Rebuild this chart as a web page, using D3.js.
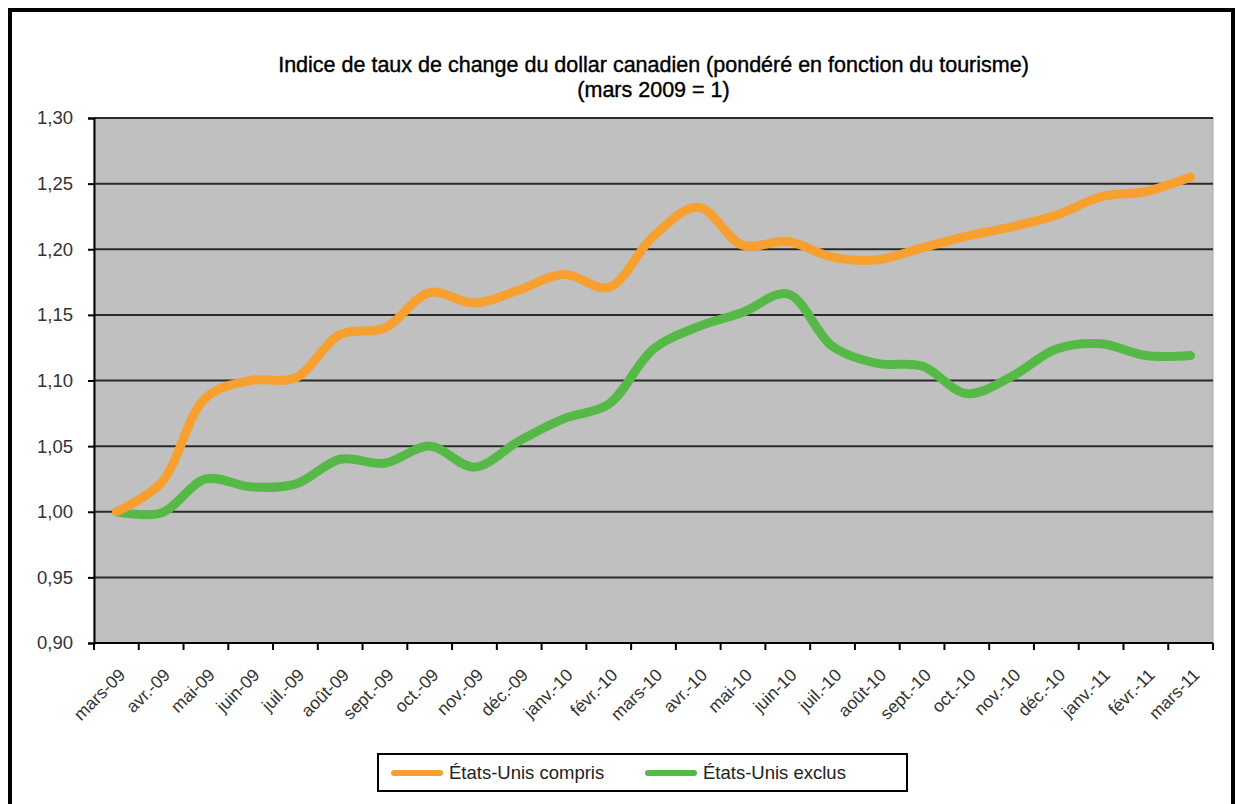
<!DOCTYPE html>
<html>
<head>
<meta charset="utf-8">
<script src="https://cdn.jsdelivr.net/npm/d3@7"></script>
<style>
  body { margin: 0; background: #fff; }
  svg { display: block; }
  text { font-family: "Liberation Sans", Arial, sans-serif; }
</style>
</head>
<body>
<div id="chart"></div>
<script>
// months on the x axis
var months = ["mars-09", "avr.-09", "mai-09", "juin-09", "juil.-09", "août-09", "sept.-09", "oct.-09",
  "nov.-09", "déc.-09", "janv.-10", "févr.-10", "mars-10", "avr.-10", "mai-10", "juin-10", "juil.-10",
  "août-10", "sept.-10", "oct.-10", "nov.-10", "déc.-10", "janv.-11", "févr.-11", "mars-11"];

// index values
var usIncluded = [1.000, 1.022, 1.087, 1.100, 1.102, 1.135, 1.140, 1.167, 1.159, 1.169, 1.181, 1.171, 1.210,
  1.232, 1.203, 1.206, 1.194, 1.192, 1.201, 1.210, 1.217, 1.226, 1.240, 1.244, 1.255];
var usExcluded = [1.000, 0.999, 1.025, 1.019, 1.021, 1.040, 1.037, 1.050, 1.034, 1.054, 1.071, 1.082, 1.124,
  1.141, 1.152, 1.166, 1.126, 1.113, 1.111, 1.090, 1.103, 1.124, 1.128, 1.119, 1.119];

var yTicks = [0.90, 0.95, 1.00, 1.05, 1.10, 1.15, 1.20, 1.25, 1.30];

var seriesNames = ["États-Unis compris", "États-Unis exclus"];
var seriesColors = ["#f7a030", "#56b947"];

var width = 1238,
    height = 804;
var plotLeft = 94, plotRight = 1213, plotTop = 118, plotBottom = 643;

var svg = d3.select("#chart").append("svg")
    .attr("width", width)
    .attr("height", height);

// outer frame
svg.append("rect")
    .attr("x", 10).attr("y", 10)
    .attr("width", 1223).attr("height", 820)
    .attr("fill", "none")
    .attr("stroke", "#000")
    .attr("stroke-width", 4);

var x = d3.scaleBand()
    .domain(months)
    .range([plotLeft, plotRight]);

var y = d3.scaleLinear()
    .domain([0.9, 1.3])
    .range([plotBottom, plotTop]);

// plot background
svg.append("rect")
    .attr("x", plotLeft).attr("y", plotTop)
    .attr("width", plotRight - plotLeft).attr("height", plotBottom - plotTop)
    .attr("fill", "#c0c0c0")
    .attr("stroke", "#a8a8a8")
    .attr("stroke-width", 1);

// grid lines
svg.append("g")
  .selectAll("line")
  .data(yTicks)
  .enter().append("line")
    .attr("x1", plotLeft).attr("x2", plotRight)
    .attr("y1", function(d) { return y(d); })
    .attr("y2", function(d) { return y(d); })
    .attr("stroke", "#2a2a2a")
    .attr("stroke-width", 2);

// y axis
var yAxis = svg.append("g")
    .attr("transform", "translate(" + plotLeft + ",0)")
    .call(d3.axisLeft(y)
      .tickValues(yTicks)
      .tickSize(6)
      .tickPadding(15)
      .tickFormat(function(d) { return d.toFixed(2).replace(".", ","); }));
yAxis.select(".domain").attr("stroke", "#000").attr("stroke-width", 2);
yAxis.selectAll(".tick line").attr("stroke", "#000").attr("stroke-width", 2);
yAxis.selectAll("text")
    .attr("font-size", "18.5px")
    .attr("font-family", "Liberation Sans, Arial, sans-serif")
    .attr("fill", "#333");

// x axis: ticks between the months
var bw = x.bandwidth();
var xg = svg.append("g");
xg.append("line")
    .attr("x1", plotLeft).attr("x2", plotRight)
    .attr("y1", plotBottom).attr("y2", plotBottom)
    .attr("stroke", "#000")
    .attr("stroke-width", 2);
xg.selectAll(".xtick")
  .data(months.concat(["end"]))
  .enter().append("line")
    .attr("class", "xtick")
    .attr("x1", function(d) { return d === "end" ? plotRight : x(d); })
    .attr("x2", function(d) { return d === "end" ? plotRight : x(d); })
    .attr("y1", plotBottom).attr("y2", plotBottom + 7)
    .attr("stroke", "#000")
    .attr("stroke-width", 2);
xg.selectAll(".xlabel")
  .data(months)
  .enter().append("text")
    .attr("class", "xlabel")
    .attr("text-anchor", "end")
    .attr("font-size", "17.5px")
    .attr("fill", "#333")
    .attr("transform", function(d) {
      return "translate(" + (x(d) + bw / 2 + 10) + "," + (plotBottom + 33) + ") rotate(-45)";
    })
    .text(function(d) { return d; });

// lines
var line = d3.line()
    .x(function(d, i) { return x(months[i]) + bw / 2; })
    .y(function(d) { return y(d); })
    .curve(d3.curveCatmullRom.alpha(0.5));

svg.append("path")
    .datum(usExcluded)
    .attr("d", line)
    .attr("fill", "none")
    .attr("stroke", seriesColors[1])
    .attr("stroke-width", 9)
    .attr("stroke-linecap", "round");

svg.append("path")
    .datum(usIncluded)
    .attr("d", line)
    .attr("fill", "none")
    .attr("stroke", seriesColors[0])
    .attr("stroke-width", 9)
    .attr("stroke-linecap", "round");

// title
svg.append("text")
    .attr("x", (plotLeft + plotRight) / 2)
    .attr("y", 72)
    .attr("text-anchor", "middle")
    .attr("font-size", "21.5px")
    .attr("stroke", "#000")
    .attr("stroke-width", 0.4)
    .text("Indice de taux de change du dollar canadien (pondéré en fonction du tourisme)");
svg.append("text")
    .attr("x", (plotLeft + plotRight) / 2)
    .attr("y", 97)
    .attr("text-anchor", "middle")
    .attr("font-size", "21.5px")
    .attr("stroke", "#000")
    .attr("stroke-width", 0.4)
    .text("(mars 2009 = 1)");

// legend
var legend = svg.append("g");
legend.append("rect")
    .attr("x", 378).attr("y", 754)
    .attr("width", 529).attr("height", 37)
    .attr("fill", "#fff")
    .attr("stroke", "#000")
    .attr("stroke-width", 2);
var legendX = [394, 648];
var items = legend.selectAll(".item")
  .data(seriesNames)
  .enter().append("g")
    .attr("class", "item")
    .attr("transform", function(d, i) { return "translate(" + legendX[i] + ",773)"; });
items.append("line")
    .attr("x1", 0).attr("x2", 46)
    .attr("stroke", function(d, i) { return seriesColors[i]; })
    .attr("stroke-width", 6)
    .attr("stroke-linecap", "round");
items.append("text")
    .attr("x", 55)
    .attr("dy", "0.35em")
    .attr("font-size", "18.5px")
    .attr("fill", "#222")
    .text(function(d) { return d; });
</script>
</body>
</html>
